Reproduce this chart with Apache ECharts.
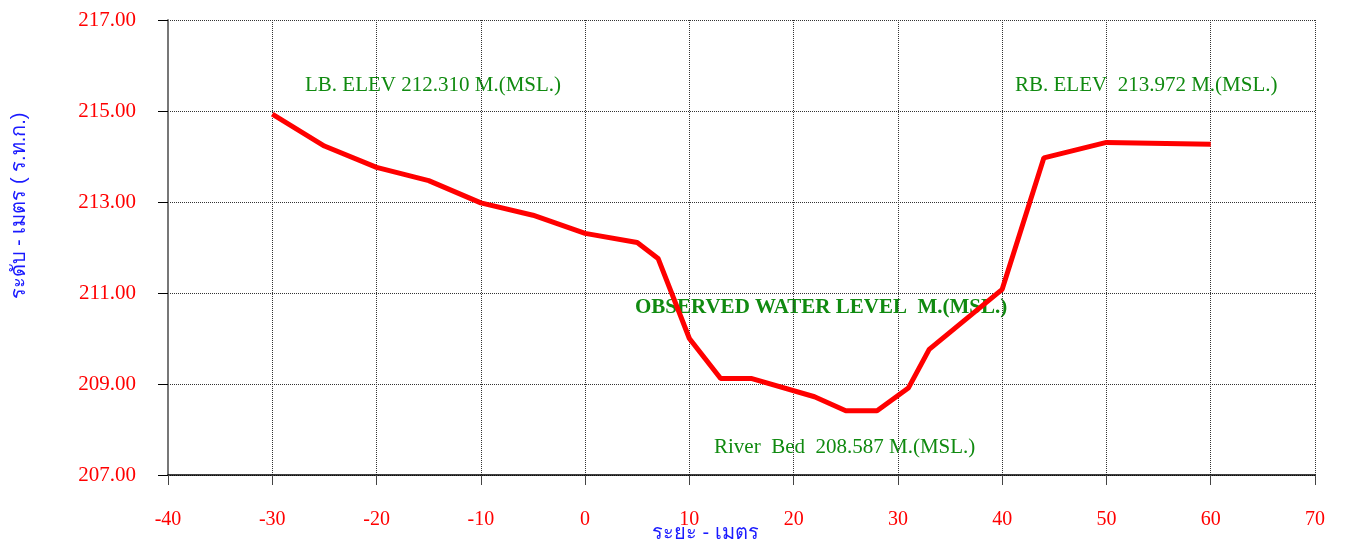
<!DOCTYPE html>
<html>
<head>
<meta charset="utf-8">
<script src="https://cdn.jsdelivr.net/npm/echarts@6/dist/echarts.min.js"></script>
<style>
  html, body { margin: 0; padding: 0; background: #fff; }
  #chart { width: 1346px; height: 547px; }
</style>
</head>
<body>
<div id="chart"></div>
<script>
// ระยะ (m) และ ระดับ (ม.รทก.)
const distance = [-30, -25, -20, -15, -10, -5, 0, 5, 7, 10, 13, 16, 22, 25, 28, 31, 33, 40, 44, 50, 60]
const elevation = [214.93, 214.23, 213.76, 213.47, 212.98, 212.71, 212.31, 212.11, 211.76, 210.0, 209.12, 209.12, 208.72, 208.41, 208.41, 208.91, 209.76, 211.08, 213.97, 214.31, 214.27]
const notes = [
    {text: 'LB. ELEV 212.310 M.(MSL.)', left: 305, top: 75, bold: false},
    {text: 'RB. ELEV  213.972 M.(MSL.)', left: 1015, top: 75, bold: false},
    {text: 'OBSERVED WATER LEVEL  M.(MSL.)', left: 635, top: 297, bold: true},
    {text: 'River  Bed  208.587 M.(MSL.)', left: 714, top: 437, bold: false},
]

const chart = echarts.init(document.getElementById('chart'))
const serif = '"Liberation Serif", "Times New Roman", serif'
const grid = {type: 'dotted', color: '#333', width: 1}

chart.setOption({
    animation: false,
    grid: {left: 168, right: 31, top: 20, bottom: 72},
    xAxis: {
        type: 'value',
        min: -40,
        max: 70,
        interval: 10,
        axisLine: {onZero: false, lineStyle: {color: '#000', width: 1.5}},
        axisTick: {show: true, length: 10, lineStyle: {color: '#444'}},
        axisLabel: {color: '#ff0000', fontFamily: serif, fontSize: 20, margin: 35},
        splitLine: {show: true, lineStyle: grid},
    },
    yAxis: {
        type: 'value',
        min: 207,
        max: 217,
        interval: 2,
        axisLine: {show: true, onZero: false, lineStyle: {color: '#777', width: 2}},
        axisTick: {show: true, inside: false, length: 10, lineStyle: {color: '#000'}},
        axisLabel: {
            color: '#ff0000', fontFamily: serif, fontSize: 21, margin: 32,
            formatter: v => v.toFixed(2)
        },
        splitLine: {show: true, lineStyle: grid},
    },
    series: [{
        type: 'line',
        data: distance.map((d, i) => [d, elevation[i]]),
        showSymbol: false,
        lineStyle: {color: '#ff0000', width: 5},
        z: 3,
    }],
    graphic: [
        ...notes.map(n => ({
            type: 'text',
            left: n.left,
            top: n.top,
            style: {
                text: n.text,
                fill: '#108a10',
                font: (n.bold ? 'bold ' : '') + '21px ' + serif,
            }
        })),
        {
            type: 'text',
            left: 652,
            top: 523,
            style: {text: 'ระยะ - เมตร', fill: '#1a1aff', font: '20px sans-serif'}
        },
        {
            type: 'text',
            x: 19,
            y: 206,
            rotation: Math.PI / 2,
            style: {
                text: 'ระดับ - เมตร ( ร.ท.ก.)',
                fill: '#1a1aff',
                font: '20px sans-serif',
                align: 'center',
                verticalAlign: 'middle'
            }
        }
    ]
})
</script>
</body>
</html>
